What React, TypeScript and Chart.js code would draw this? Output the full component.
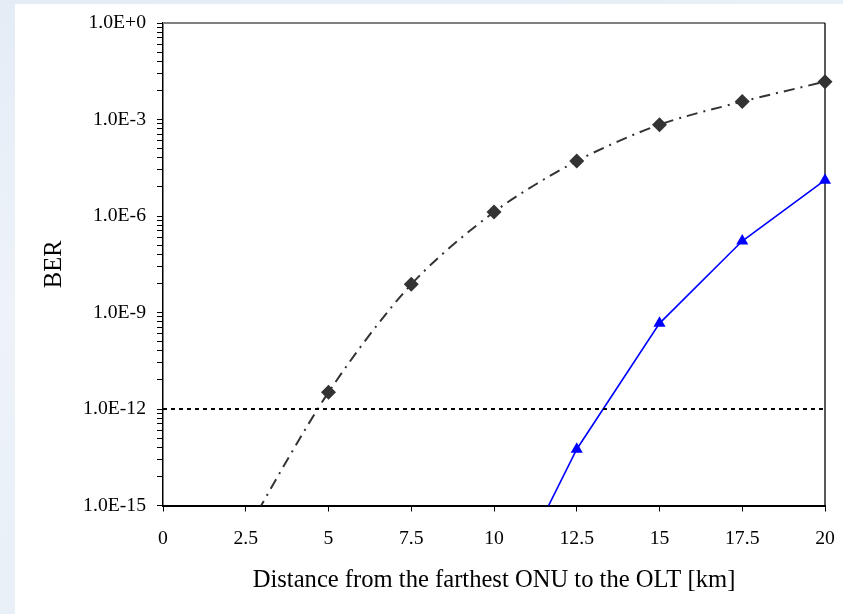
import React, { useEffect, useRef } from 'react';
import { Chart, registerables } from 'chart.js';

Chart.register(...registerables);

// ---- data ----
const xTickValues = [0, 2.5, 5, 7.5, 10, 12.5, 15, 17.5, 20];
const dashedDistances = [2.5, 5, 7.5, 10, 12.5, 15, 17.5, 20];
const dashedBER = [1.5e-16, 3.3e-12, 7.5e-9, 1.33e-6, 5.1e-5, 6.9e-4, 3.6e-3, 1.5e-2];
const solidDistances = [10, 12.5, 15, 17.5, 20];
const solidBER = [4e-19, 5.6e-14, 4.6e-10, 1.67e-7, 1.3e-5];
const thresholdDistances = [0, 20];
const thresholdBER = 1e-12;
const yMajorExponents = [0, -3, -6, -9, -12, -15];
const yMinorMultipliers = [8, 27, 64, 125, 216, 343, 512, 729];

const X_TITLE = 'Distance from the farthest ONU to the OLT [km]';
const Y_TITLE = 'BER';
const FONT = "'Liberation Serif', 'Times New Roman', serif";

function majorLabel(exp: number): string {
  return '1.0E' + (exp >= 0 ? '+' : '') + exp;
}

const framePlugin = {
  id: 'frame',
  beforeDatasetsDraw(chart: any) {
    const { ctx, chartArea } = chart;
    const { left, top, right, bottom } = chartArea;
    ctx.save();
    ctx.strokeStyle = '#808080';
    ctx.lineWidth = 2;
    ctx.beginPath();
    ctx.moveTo(left, top);
    ctx.lineTo(right, top);
    ctx.stroke();
    ctx.strokeStyle = '#000000';
    ctx.lineWidth = 1.3;
    ctx.beginPath();
    ctx.moveTo(right, top);
    ctx.lineTo(right, bottom);
    ctx.stroke();
    ctx.restore();
  },
};

export default function App() {
  const canvasRef = useRef<HTMLCanvasElement | null>(null);

  useEffect(() => {
    const canvas = canvasRef.current;
    if (!canvas) return;

    const yTicks: { value: number; major: boolean }[] = [];
    yMajorExponents.forEach((e) => yTicks.push({ value: Math.pow(10, e), major: true }));
    yMajorExponents.forEach((e) => {
      if (e === 0) return;
      yMinorMultipliers.forEach((m) => yTicks.push({ value: m * Math.pow(10, e), major: false }));
    });
    yTicks.sort((a, b) => a.value - b.value);

    const chart = new Chart(canvas, {
      type: 'line',
      data: {
        datasets: [
          {
            label: 'threshold',
            data: thresholdDistances.map((x) => ({ x, y: thresholdBER })),
            borderColor: '#000000',
            borderWidth: 2,
            borderDash: [4, 4],
            pointRadius: 0,
            fill: false,
            tension: 0,
          },
          {
            label: 'dashed',
            data: dashedDistances.map((x, i) => ({ x, y: dashedBER[i] })),
            borderColor: '#333333',
            backgroundColor: '#333333',
            borderWidth: 2,
            borderDash: [11, 6, 2, 6],
            pointStyle: 'rectRot',
            pointRadius: 7.5,
            pointBorderWidth: 0,
            pointBackgroundColor: '#333333',
            fill: false,
            tension: 0.3,
            clip: { left: 0, top: 10, right: 10, bottom: 0 },
          },
          {
            label: 'solid',
            data: solidDistances.map((x, i) => ({ x, y: solidBER[i] })),
            borderColor: '#0000ff',
            backgroundColor: '#0000ff',
            borderWidth: 1.6,
            pointStyle: 'triangle',
            pointRadius: 7,
            pointBorderWidth: 0,
            pointBackgroundColor: '#0000ff',
            fill: false,
            tension: 0,
            clip: { left: 0, top: 10, right: 10, bottom: 0 },
          },
        ],
      },
      options: {
        animation: false,
        responsive: false,
        devicePixelRatio: 1,
        layout: { autoPadding: false, padding: { left: 0, top: 23, right: 18, bottom: 0 } },
        elements: { line: { capBezierPoints: false } },
        plugins: {
          legend: { display: false },
          tooltip: { enabled: false },
        },
        scales: {
          x: {
            type: 'linear',
            min: 0,
            max: 20,
            afterBuildTicks: (scale: any) => {
              scale.ticks = xTickValues.map((v) => ({ value: v }));
            },
            afterFit: (scale: any) => {
              scale.height = 108.5;
              scale.paddingLeft = 0;
              scale.paddingRight = 0;
            },
            ticks: {
              autoSkip: false,
              maxRotation: 0,
              padding: 16,
              color: '#000000',
              font: { family: FONT, size: 19.7 },
              callback: (v: any) => String(v),
            },
            grid: {
              drawOnChartArea: false,
              drawTicks: true,
              tickLength: 6,
              tickColor: '#000000',
              tickWidth: 1,
            },
            border: { display: true, color: '#000000', width: 2 },
            title: {
              display: true,
              text: X_TITLE,
              color: '#000000',
              font: { family: FONT, size: 24.6 },
              padding: { top: 0, bottom: 19 },
            },
          },
          y: {
            type: 'logarithmic',
            min: 1e-15,
            max: 1,
            afterBuildTicks: (scale: any) => {
              scale.ticks = yTicks.map((t) => ({ value: t.value, major: t.major }));
            },
            afterFit: (scale: any) => {
              scale.width = 163;
              scale.paddingTop = 0;
              scale.paddingBottom = 0;
            },
            ticks: {
              autoSkip: false,
              padding: 11,
              color: '#000000',
              font: { family: FONT, size: 19.7 },
              callback: (v: any) => {
                const val = Number(v);
                for (const e of yMajorExponents) {
                  if (Math.abs(Math.log10(val) - e) < 1e-6) return majorLabel(e);
                }
                return '';
              },
            },
            grid: {
              drawOnChartArea: false,
              drawTicks: true,
              tickLength: 6,
              tickColor: '#000000',
              tickWidth: 1,
            },
            border: { display: true, color: '#000000', width: 1.5 },
            title: {
              display: true,
              text: Y_TITLE,
              color: '#000000',
              font: { family: FONT, size: 24.6 },
              padding: { top: 40, bottom: 0 },
            },
          },
        },
      },
      plugins: [framePlugin],
    } as any);

    return () => chart.destroy();
  }, []);

  return (
    <div
      style={{
        position: 'absolute',
        left: 0,
        top: 0,
        width: 843,
        height: 614,
        overflow: 'hidden',
        background: 'linear-gradient(170deg, #e4ecf6 0%, #eef3f9 40%, #e6eef7 100%)',
      }}
    >
      <div
        style={{
          position: 'absolute',
          left: 15,
          top: 4,
          right: 0,
          bottom: 0,
          background: '#ffffff',
        }}
      />
      <canvas
        ref={canvasRef}
        width={843}
        height={614}
        style={{ position: 'absolute', left: 0, top: 0, width: 843, height: 614 }}
      />
    </div>
  );
}
